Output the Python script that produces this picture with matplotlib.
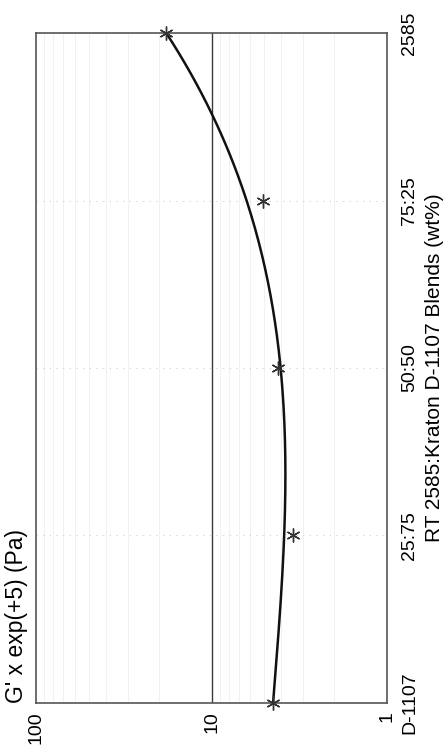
import matplotlib
matplotlib.use("Agg")
import matplotlib.pyplot as plt
from matplotlib.ticker import FixedLocator, NullFormatter
import numpy as np

# Данные (график повёрнут на 90°: категории идут снизу вверх)
categories = ["D-1107", "25:75", "50:50", "75:25", "2585"]
g_values = [4.48, 3.44, 4.20, 5.09, 18.2]      # измеренные точки (звёздочки)
fit_values = [4.48, 3.78, 4.16, 6.19, 18.2]    # сглаживающая кривая на категориях
g_ticks = [100, 10, 1]

plt.rcParams['font.family'] = ['Liberation Sans', 'DejaVu Sans']

fig = plt.figure(figsize=(4.45, 7.52), dpi=100)
ax = fig.add_axes([0.0809, 0.0652, 0.7888, 0.8909])

pos = np.arange(len(categories))

# Тонкая сетка на промежуточных делениях логарифмической шкалы
minor = [m * 10 ** k for k in (0, 1) for m in range(2, 10)]
for v in minor:
    ax.axvline(v, color='#f1f1f1', lw=0.7, zorder=0)
for p in pos[1:-1]:
    ax.axhline(p, color='#cfcfcf', lw=0.8, ls=(0, (1, 5)), zorder=0)
ax.axvline(10, color='#3a3a3a', lw=1.0, zorder=1)

# Сглаживающая кривая (кубический полином в лог-шкале)
coef = np.polyfit(pos, np.log10(fit_values), 3)
t = np.linspace(pos[0], pos[-1], 200)
ax.plot(10 ** np.polyval(coef, t), t, color='#111111', lw=1.8, zorder=3)

ax.plot(g_values, pos, linestyle='none', marker=(6, 2, 0), markersize=10,
        markeredgecolor='#333333', markeredgewidth=1.0, zorder=4, clip_on=False)

ax.set_xscale('log')
ax.set_xlim(100, 1)
ax.set_ylim(pos[0], pos[-1])

ax.xaxis.set_major_locator(FixedLocator(g_ticks))
ax.xaxis.set_minor_formatter(NullFormatter())
ax.set_xticklabels([str(v) for v in g_ticks], rotation=90, fontsize=14)
ax.tick_params(axis='x', which='both', length=0, pad=6)

ax.yaxis.tick_right()
ax.set_yticks(pos)
ax.set_yticklabels(categories, rotation=90, va='center', fontsize=14)
ax.tick_params(axis='y', length=0, pad=10)
ax.yaxis.set_label_position('right')
ax.set_ylabel("RT 2585:Kraton D-1107 Blends (wt%)", rotation=90,
              fontsize=15, labelpad=5)

fig.text(17 / 445, 1 - 703 / 752, "G' x exp(+5) (Pa)", rotation=90,
         ha='center', va='bottom', fontsize=16.5)

for s in ax.spines.values():
    s.set_color('#555555')
    s.set_linewidth(1.2)

fig.savefig("out.png", dpi=100)
